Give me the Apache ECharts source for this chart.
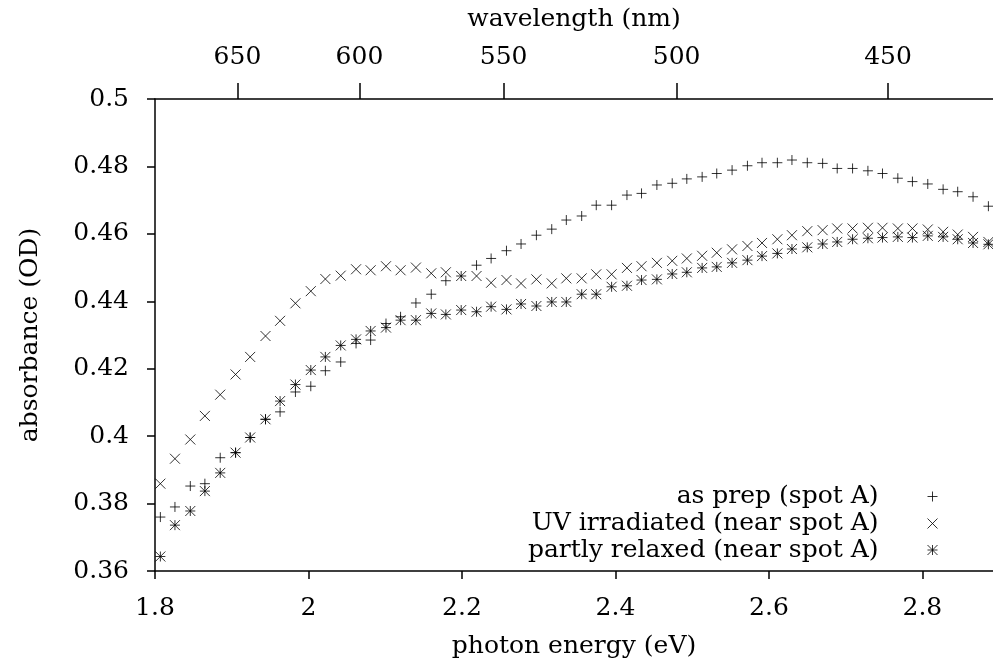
<!DOCTYPE html>
<html>
<head>
<meta charset="utf-8">
<script src="https://cdn.jsdelivr.net/npm/echarts@6/dist/echarts.min.js"></script>
<style>
html,body{margin:0;padding:0;background:#fff;}
#chart{width:993px;height:664px;}
</style>
</head>
<body>
<div id="chart"></div>
<script>
// photon energy (eV) of each measured point
const energy = [1.807,1.826,1.846,1.865,1.885,1.905,1.924,1.944,1.963,1.983,
  2.003,2.022,2.042,2.062,2.081,2.101,2.120,2.140,2.160,2.179,
  2.199,2.219,2.238,2.258,2.277,2.297,2.317,2.336,2.356,2.375,
  2.395,2.415,2.434,2.454,2.474,2.493,2.513,2.532,2.552,2.572,
  2.591,2.611,2.630,2.650,2.670,2.689,2.709,2.729,2.748,2.768,
  2.787,2.807,2.827,2.846,2.866,2.886];
const asPrep = [0.3760,0.3790,0.3852,0.3859,0.3936,0.3951,0.3996,0.4050,0.4072,0.4131,
  0.4148,0.4194,0.4220,0.4275,0.4285,0.4334,0.4354,0.4395,0.4421,0.4461,
  0.4475,0.4507,0.4527,0.4550,0.4570,0.4596,0.4614,0.4641,0.4653,0.4685,
  0.4685,0.4715,0.4720,0.4745,0.4750,0.4763,0.4769,0.4779,0.4789,0.4802,
  0.4811,0.4811,0.4819,0.4811,0.4809,0.4794,0.4794,0.4787,0.4779,0.4765,
  0.4755,0.4748,0.4732,0.4725,0.4710,0.4682];
const uvIrradiated = [0.3859,0.3933,0.3990,0.4060,0.4123,0.4183,0.4235,0.4297,0.4342,0.4394,
  0.4430,0.4466,0.4476,0.4495,0.4492,0.4504,0.4492,0.4500,0.4483,0.4486,
  0.4475,0.4475,0.4455,0.4463,0.4453,0.4465,0.4453,0.4468,0.4468,0.4480,
  0.4480,0.4499,0.4504,0.4514,0.4520,0.4527,0.4535,0.4544,0.4554,0.4564,
  0.4573,0.4584,0.4596,0.4608,0.4611,0.4616,0.4616,0.4618,0.4618,0.4616,
  0.4616,0.4613,0.4606,0.4598,0.4591,0.4576];
const partlyRelaxed = [0.3643,0.3736,0.3778,0.3837,0.3891,0.3951,0.3996,0.4050,0.4104,0.4153,
  0.4196,0.4235,0.4269,0.4287,0.4312,0.4322,0.4344,0.4344,0.4364,0.4361,
  0.4374,0.4369,0.4384,0.4376,0.4392,0.4386,0.4398,0.4398,0.4421,0.4421,
  0.4443,0.4446,0.4463,0.4465,0.4481,0.4486,0.4499,0.4502,0.4514,0.4522,
  0.4534,0.4542,0.4555,0.4560,0.4570,0.4576,0.4584,0.4587,0.4589,0.4591,
  0.4589,0.4594,0.4591,0.4584,0.4573,0.4569];
const seriesNames = ['as prep (spot A)', 'UV irradiated (near spot A)', 'partly relaxed (near spot A)'];
const energyTicks = [1.8, 2.0, 2.2, 2.4, 2.6, 2.8];
const wavelengthTicks = [650, 600, 550, 500, 450];
const HC = 1239.84; // eV*nm

const FONT = 'DejaVu Serif';
const FS = 25;
const symPlus = 'path://M0,5L10,5M5,0L5,10';
const symCross = 'path://M0,0L10,10M10,0L0,10';
const symStar = 'path://M0,5L10,5M5,0L5,10M0,0L10,10M10,0L0,10';

function pairs(ys){ return energy.map((e,i)=>[e, ys[i]]); }
const xMin = 1.8, xMax = 2.892;
const txt = {color:'#000', fontFamily:FONT, fontSize:FS};
const axLine = {show:true, lineStyle:{color:'#000', width:1.5}};

function mkSeries(name, ys, sym){
  return {
    name, type:'scatter', data:pairs(ys), symbol:sym, symbolSize:10,
    itemStyle:{color:'#000', borderColor:'#000', borderWidth:1},
    emphasis:{disabled:true}, silent:true, animation:false
  };
}
function mkLegend(name, top){
  return {
    data:[name], orient:'horizontal', align:'right', right:55, top:top,
    padding:0, itemWidth:98, itemHeight:10, symbolKeepAspect:true,
    selectedMode:false,
    itemStyle:{color:'#000', borderColor:'#000', borderWidth:1},
    textStyle:{color:'#000', fontFamily:FONT, fontSize:FS}
  };
}

const chart = echarts.init(document.getElementById('chart'), null, {renderer:'canvas'});
chart.setOption({
  animation:false,
  backgroundColor:'#fff',
  grid:{left:155, right:0, top:99, bottom:93, containLabel:false},
  xAxis:[
    {type:'value', position:'bottom', min:xMin, max:xMax,
     name:'photon energy (eV)', nameLocation:'middle', nameGap:63,
     nameTextStyle:txt,
     axisLine:axLine,
     axisTick:{show:true, inside:false, length:8, customValues:energyTicks, lineStyle:{color:'#000', width:1.5}},
     axisLabel:{show:true, margin:25, customValues:energyTicks, color:'#000', fontFamily:FONT, fontSize:FS,
       formatter:v=>String(+(+v).toFixed(1))},
     splitLine:{show:false}},
    {type:'value', position:'top', min:xMin, max:xMax,
     name:'wavelength (nm)', nameLocation:'middle', nameGap:67,
     nameTextStyle:txt,
     axisLine:axLine,
     axisTick:{show:true, inside:false, length:16, customValues:wavelengthTicks.map(w=>HC/w), lineStyle:{color:'#000', width:1.5}},
     axisLabel:{show:true, margin:29, customValues:wavelengthTicks.map(w=>HC/w), color:'#000', fontFamily:FONT, fontSize:FS,
       formatter:v=>String(Math.round(HC/v))},
     splitLine:{show:false}}
  ],
  yAxis:{type:'value', min:0.36, max:0.5, interval:0.02,
    name:'absorbance (OD)', nameLocation:'middle', nameGap:112, nameRotate:90,
    nameTextStyle:txt,
    axisLine:axLine,
    axisTick:{show:true, inside:false, length:8, lineStyle:{color:'#000', width:1.5}},
    axisLabel:{margin:26, color:'#000', fontFamily:FONT, fontSize:FS, formatter:v=>String(+v.toFixed(2))},
    splitLine:{show:false}},
  legend:[mkLegend(seriesNames[0], 484), mkLegend(seriesNames[1], 511), mkLegend(seriesNames[2], 537.5)],
  series:[mkSeries(seriesNames[0], asPrep, symPlus),
          mkSeries(seriesNames[1], uvIrradiated, symCross),
          mkSeries(seriesNames[2], partlyRelaxed, symStar)]
});
</script>
</body>
</html>
